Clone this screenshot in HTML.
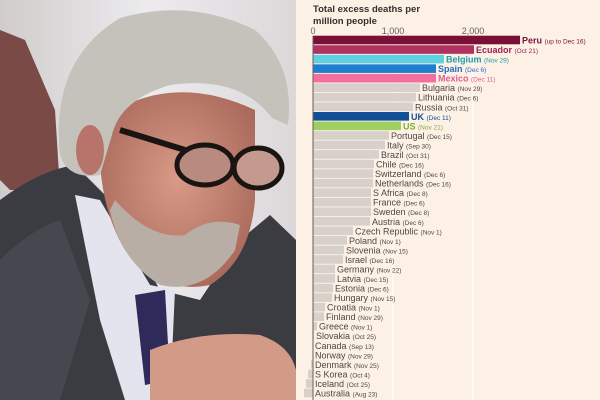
<!DOCTYPE html>
<html><head><style>
html,body{margin:0;padding:0;width:600px;height:400px;overflow:hidden;background:#fdf1e6}
svg{display:block}
text{font-family:"Liberation Sans",sans-serif}
</style></head><body>
<svg width="600" height="400" viewBox="0 0 600 400" xmlns="http://www.w3.org/2000/svg">
<defs>
<linearGradient id="bg" x1="0" y1="0" x2="1" y2="0"><stop offset="0" stop-color="#d0cccb"/><stop offset="0.5" stop-color="#ecebee"/><stop offset="1" stop-color="#dcd8da"/></linearGradient>
<radialGradient id="face" cx="0.5" cy="0.45" r="0.6"><stop offset="0" stop-color="#d89a86"/><stop offset="1" stop-color="#a8685a"/></radialGradient>
</defs>
<rect x="0" y="0" width="296" height="400" fill="url(#bg)"/>
<path d="M0 30 L25 40 L55 110 L60 190 L10 190 L0 180Z" fill="#7a4a46"/>
<!-- suit -->
<path d="M0 200 Q40 170 75 165 L110 200 L160 290 L200 300 L240 240 L270 215 L296 240 L296 400 L0 400Z" fill="#3a3c42"/>
<path d="M0 260 Q30 230 60 220 L90 300 L60 400 L0 400Z" fill="#45484f"/>
<!-- shirt -->
<path d="M75 195 L100 200 L150 285 L175 290 L170 400 L125 400 L100 320 Z" fill="#e4e4ee"/>
<!-- tie -->
<path d="M135 295 L165 290 L170 380 L145 385 Z" fill="#2e2a5a"/>
<!-- face -->
<path d="M100 120 Q170 70 255 110 L255 200 Q250 260 210 285 Q160 295 125 250 Q95 200 100 120Z" fill="url(#face)"/>
<!-- beard -->
<path d="M110 210 Q120 260 160 285 Q205 295 235 250 L240 225 Q210 215 185 235 Q150 240 115 200Z" fill="#b9aea6"/>
<!-- hair -->
<path d="M60 155 Q50 60 120 18 Q190 -2 255 30 Q295 65 288 125 L272 118 Q240 75 170 85 Q120 100 112 135 L100 175 Q68 180 60 155Z" fill="#c4c2bb"/>
<!-- glasses -->
<path d="M120 130 L185 150" stroke="#1a1412" stroke-width="6" fill="none"/>
<ellipse cx="205" cy="165" rx="28" ry="20" fill="#b98a80" stroke="#1a1412" stroke-width="5"/>
<ellipse cx="258" cy="168" rx="24" ry="20" fill="#c49a90" stroke="#1a1412" stroke-width="5"/>
<!-- ear -->
<ellipse cx="90" cy="150" rx="14" ry="25" fill="#b8746a"/>
<!-- hands -->
<path d="M150 350 Q200 330 260 335 Q290 345 296 370 L296 400 L150 400Z" fill="#d39a88"/>
<rect x="296" y="0" width="304" height="400" fill="#fdf1e6"/>
<text x="313" y="12" font-size="9.5" font-weight="bold" fill="#33302e">Total excess deaths per</text>
<text x="313" y="24" font-size="9.5" font-weight="bold" fill="#33302e">million people</text>
<g font-size="9" fill="#66605c" text-anchor="middle">
<text x="313" y="34">0</text><text x="393" y="34">1,000</text><text x="473" y="34">2,000</text>
</g>
<line x1="393" y1="36" x2="393" y2="400" stroke="#fff" stroke-width="1"/>
<line x1="473" y1="36" x2="473" y2="400" stroke="#fff" stroke-width="1"/>
<g id="bars"></g>
<line x1="313" y1="36" x2="313" y2="400" stroke="#66605c" stroke-width="1"/>
</svg>
<script>
var d=[["Peru","up to Dec 16",520,"#7a0f38","#7a0f38"],["Ecuador","Oct 21",474,"#b03260","#9a2050"],["Belgium","Nov 29",444,"#5fd0e0","#1e9aaa"],["Spain","Dec 6",436,"#1f7fcf","#1f6fbf"],["Mexico","Dec 11",436,"#f26fa0","#e25a90"],["Bulgaria","Nov 29",420],["Lithuania","Dec 6",416],["Russia","Oct 31",413],["UK","Dec 11",409,"#0f4f96","#0f4f96"],["US","Nov 21",401,"#9fcf60","#7faf30"],["Portugal","Dec 15",389],["Italy","Sep 30",385],["Brazil","Oct 31",379],["Chile","Dec 16",374],["Switzerland","Dec 6",373],["Netherlands","Dec 16",373],["S Africa","Dec 8",371],["France","Dec 6",371],["Sweden","Dec 8",371],["Austria","Dec 6",370],["Czech Republic","Nov 1",353],["Poland","Nov 1",347],["Slovenia","Nov 15",344],["Israel","Dec 16",343],["Germany","Nov 22",335],["Latvia","Dec 15",335],["Estonia","Dec 6",333],["Hungary","Nov 15",332],["Croatia","Nov 1",325],["Finland","Nov 29",324],["Greece","Nov 1",317],["Slovakia","Oct 25",314],["Canada","Sep 13",313],["Norway","Nov 29",313],["Denmark","Nov 25",311],["S Korea","Oct 4",308],["Iceland","Oct 25",306],["Australia","Aug 23",304]];
var g=document.getElementById("bars"),h="";
d.forEach(function(r,i){var y=40+i*9.54,c=r[3]||"#d8d1cb",tc=r[4]||"#4d4845",b=!!r[3];
var x0=Math.min(313,r[2]),w=Math.abs(r[2]-313);
h+='<rect x="'+x0+'" y="'+(y-4.3)+'" width="'+w+'" height="8.6" fill="'+c+'"/>';
var lx=Math.max(r[2],313)+2;
h+='<text x="'+lx+'" y="'+(y+3.5)+'" font-size="9" fill="'+tc+'"'+(b?' font-weight="bold"':'')+'>'+r[0]+' <tspan font-size="6.5" font-weight="normal">('+r[1]+')</tspan></text>';});
g.innerHTML=h;
</script>
</body></html>
